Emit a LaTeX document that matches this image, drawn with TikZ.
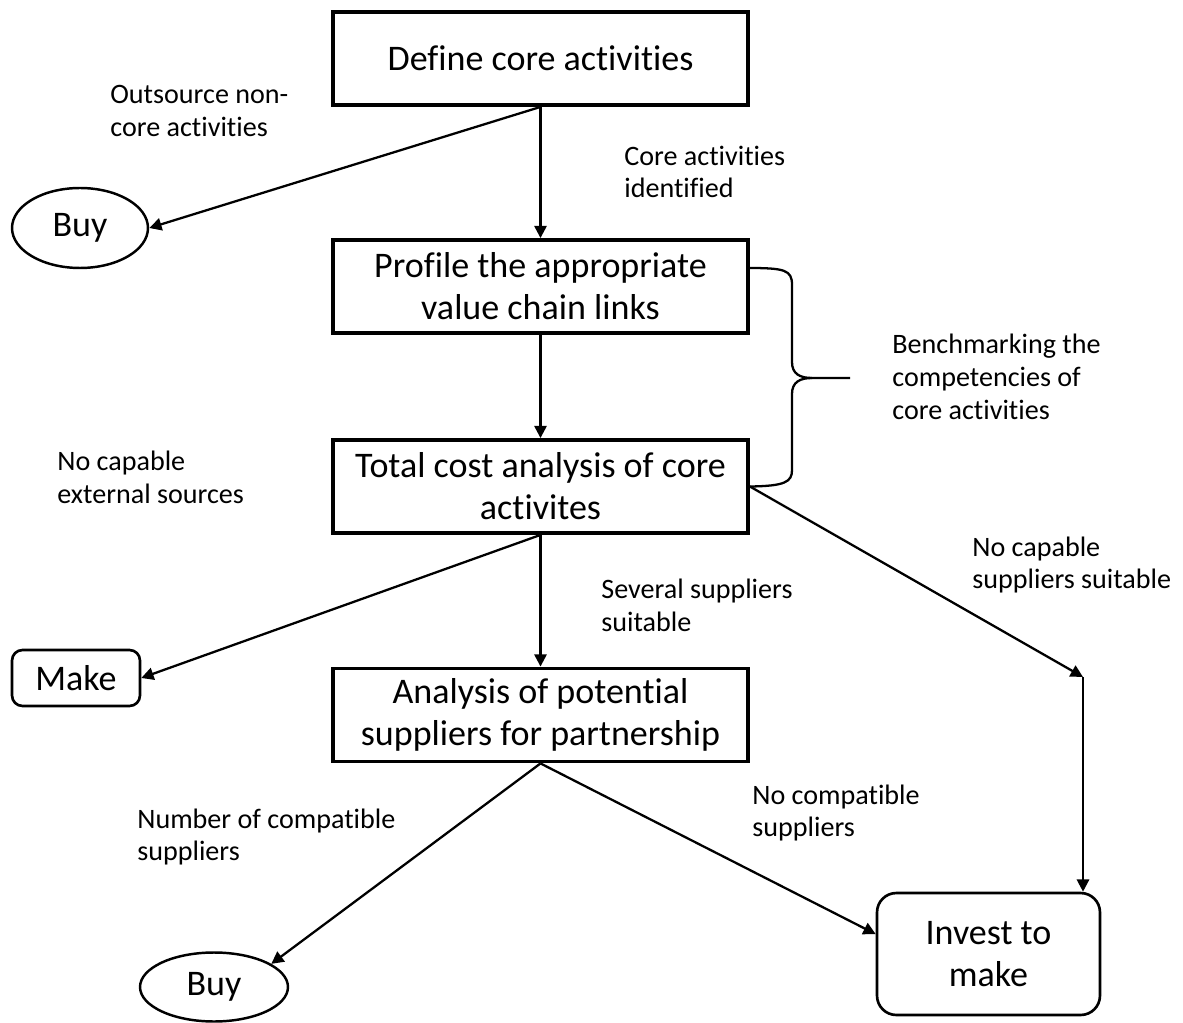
\documentclass[tikz,border=0pt]{standalone}
\usepackage{fontspec}
\setmainfont{Carlito}[Ligatures={NoCommon,NoRare,NoContextual}]
\usetikzlibrary{arrows.meta,shapes.geometric}

\tikzset{
  stepbox/.style={draw,line width=2.2pt,fill=white,minimum width=8.3cm,minimum height=1.86cm,
    align=center,font=\fontsize{20.5}{24}\selectfont},
  endbox/.style={draw,line width=1.5pt,fill=white,align=center,font=\fontsize{20.5}{24}\selectfont},
  endoval/.style={draw,ellipse,line width=1.4pt,fill=white,inner sep=0pt,font=\fontsize{20.5}{24}\selectfont},
  lbl/.style={anchor=west,align=left,inner sep=0pt,font=\fontsize{16}{18.7}\selectfont},
  arr/.style={-{Triangle[length=7pt,width=7pt]},line width=1.3pt},
  bracket/.style={line width=1.3pt}
}

\begin{document}
\begin{tikzpicture}[x=0.02cm,y=-0.02cm]
\useasboundingbox (0,0) rectangle (1183,1023);

\node[stepbox] (define) at (540.5,58.5) {Define core activities};
\node[stepbox] (profile) at (540.5,286.5) {Profile the appropriate\\value chain links};
\node[stepbox] (total) at (540.5,486.5) {Total cost analysis of core\\activites};
\node[stepbox] (analysis) at (540.5,715) {Analysis of potential\\suppliers for partnership};

\node[endoval,minimum width=2.72cm,minimum height=1.6cm] (buy1) at (80,228) {Buy};
\node[endbox,rounded corners=6pt,minimum width=2.56cm,minimum height=1.12cm] (make) at (76,678) {Make};
\node[endoval,minimum width=2.96cm,minimum height=1.38cm] (buy2) at (214,987) {Buy};
\node[endbox,rounded corners=11pt,minimum width=4.46cm,minimum height=2.44cm] (invest) at (988.5,954) {Invest to\\make};

\coordinate (turn) at (1083,677);

\draw[arr] (define.south) -- (buy1.east);
\draw[arr] (define.south) -- (profile.north);
\draw[arr] (profile.south) -- (total.north);
\draw[arr] (total.south) -- (make.east);
\draw[arr] (total.south) -- (analysis.north);
\draw[arr] (total.east) -- (turn);
\draw[arr] (turn) -- (turn |- invest.north);
\draw[arr] (analysis.south) -- (buy2.22);
\draw[arr] (analysis.south) -- (invest.170);

% brace
\draw[bracket] (748,268) .. controls (785,268) and (792,270) .. (792,285) -- (792,362)
  .. controls (792,374) and (800,378) .. (812,378) -- (850,378);
\draw[bracket] (812,378) .. controls (800,378) and (792,382) .. (792,394) -- (792,470)
  .. controls (792,482) and (785,486) .. (total.east);

\node[lbl] (outsource) at (110,111) {Outsource non-\\core activities};
\node[lbl] (identified) at (624,172) {Core activities\\identified};
\node[lbl] (bench) at (892,377) {Benchmarking the\\competencies of\\core activities};
\node[lbl] (noexternal) at (57,477) {No capable\\external sources};
\node[lbl] (several) at (601,605) {Several suppliers\\suitable};
\node[lbl] (nocapable) at (972,565) {No capable\\suppliers suitable};
\node[lbl] (number) at (137,837) {Number of compatible\\suppliers};
\node[lbl] (nocompat) at (752,813) {No compatible\\suppliers};
\end{tikzpicture}
\end{document}
